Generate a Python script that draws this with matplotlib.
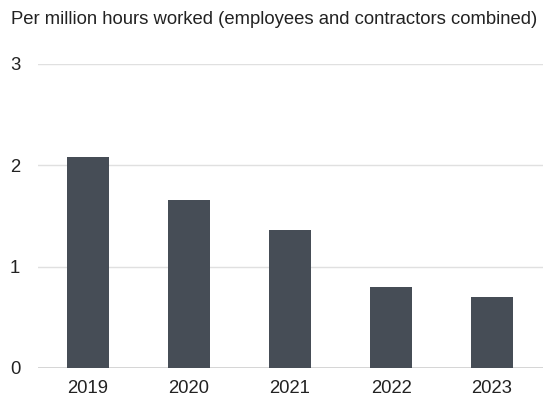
import matplotlib.pyplot as plt

years = ["2019", "2020", "2021", "2022", "2023"]
rates = [2.08, 1.66, 1.36, 0.80, 0.70]
y_ticks = [0, 1, 2, 3]

plt.rcParams['font.family'] = ['Liberation Sans', 'DejaVu Sans']

fig = plt.figure(figsize=(5.44, 3.98), dpi=100)
ax = fig.add_axes([37.5 / 544, 30 / 398, 505 / 544, 304 / 398])

ax.bar(range(len(years)), rates, width=0.41, color="#464d56", zorder=3)

ax.set_xlim(-0.5, len(years) - 0.5)
ax.set_ylim(0, 3)
ax.set_yticks(y_ticks)
ax.set_xticks(range(len(years)))
ax.set_xticklabels(years)
ax.grid(axis="y", color="#e0e0e0", linewidth=1, zorder=0)
ax.axhline(0, color="#d0d0d0", linewidth=1.2, zorder=2)

for s in ax.spines.values():
    s.set_visible(False)
ax.tick_params(axis="both", length=0, labelsize=13.3, colors="#222222")
ax.tick_params(axis="y", pad=12.5)
ax.tick_params(axis="x", pad=8.5)

fig.text(11 / 544, 1 - 20 / 398, "Per million hours worked (employees and contractors combined)",
         fontsize=13.3, color="#222222", va="center", ha="left")

fig.savefig("out.png", dpi=100)
